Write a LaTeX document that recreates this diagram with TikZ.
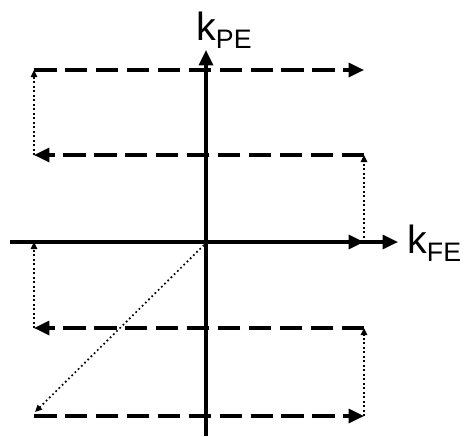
\documentclass[tikz,border=0pt]{standalone}
\usepackage{fontspec}
\setmainfont{Liberation Sans}
\usetikzlibrary{arrows.meta,calc}

\begin{document}
\begin{tikzpicture}[x=0.025cm,y=-0.025cm,
  axis/.style={line width=2.2pt,-{Triangle[length=11pt,width=10pt]}},
  sweep/.style={line width=2.2pt,dash pattern=on 16pt off 6pt,-{Triangle[length=11pt,width=10pt]}},
  jump/.style={line width=1.2pt,dotted,-{Triangle[length=5pt,width=4.5pt]}},
  lbl/.style={anchor=base west,inner sep=0pt,font=\fontsize{28}{32}\selectfont}]
\useasboundingbox (0,0) rectangle (465,436);
% corners of the loop
\coordinate (ltop) at (34,70);   \coordinate (rtop) at (364,70);
\coordinate (lup) at (34,155);   \coordinate (rup) at (364,155);
\coordinate (lmid) at (34,242);  \coordinate (rmid) at (364,242);
\coordinate (llow) at (34,328);  \coordinate (rlow) at (364,328);
\coordinate (lbot) at (34,416);  \coordinate (rbot) at (364,416);
\coordinate (origin) at (206,242);
% axes
\draw[axis] (206,436) -- (206,50) coordinate (ytip);
\draw[axis] (10,242) -- (398,242) coordinate (xtip);
\node[lbl] (kpe) at (196,40) {k{\fontsize{19}{22}\selectfont\raisebox{-6pt}{PE}}};
\node[lbl] (kfe) at (407,253) {k{\fontsize{19}{22}\selectfont\raisebox{-6pt}{FE}}};
% sweeps
\draw[sweep] (ltop) -- (rtop);
\draw[sweep] (rup) -- (lup);
\draw[sweep] (lmid) -- (rmid);
\draw[sweep] (rlow) -- (llow);
\draw[sweep] (lbot) -- (rbot);
% jumps
\draw[jump] (lup) -- (ltop);
\draw[jump] (rmid) -- (rup);
\draw[jump] (llow) -- (lmid);
\draw[jump] (rbot) -- (rlow);
\draw[jump] ($(origin)+(-2,3)$) -- ($(lbot)+(1,-4)$);
\end{tikzpicture}
\end{document}
